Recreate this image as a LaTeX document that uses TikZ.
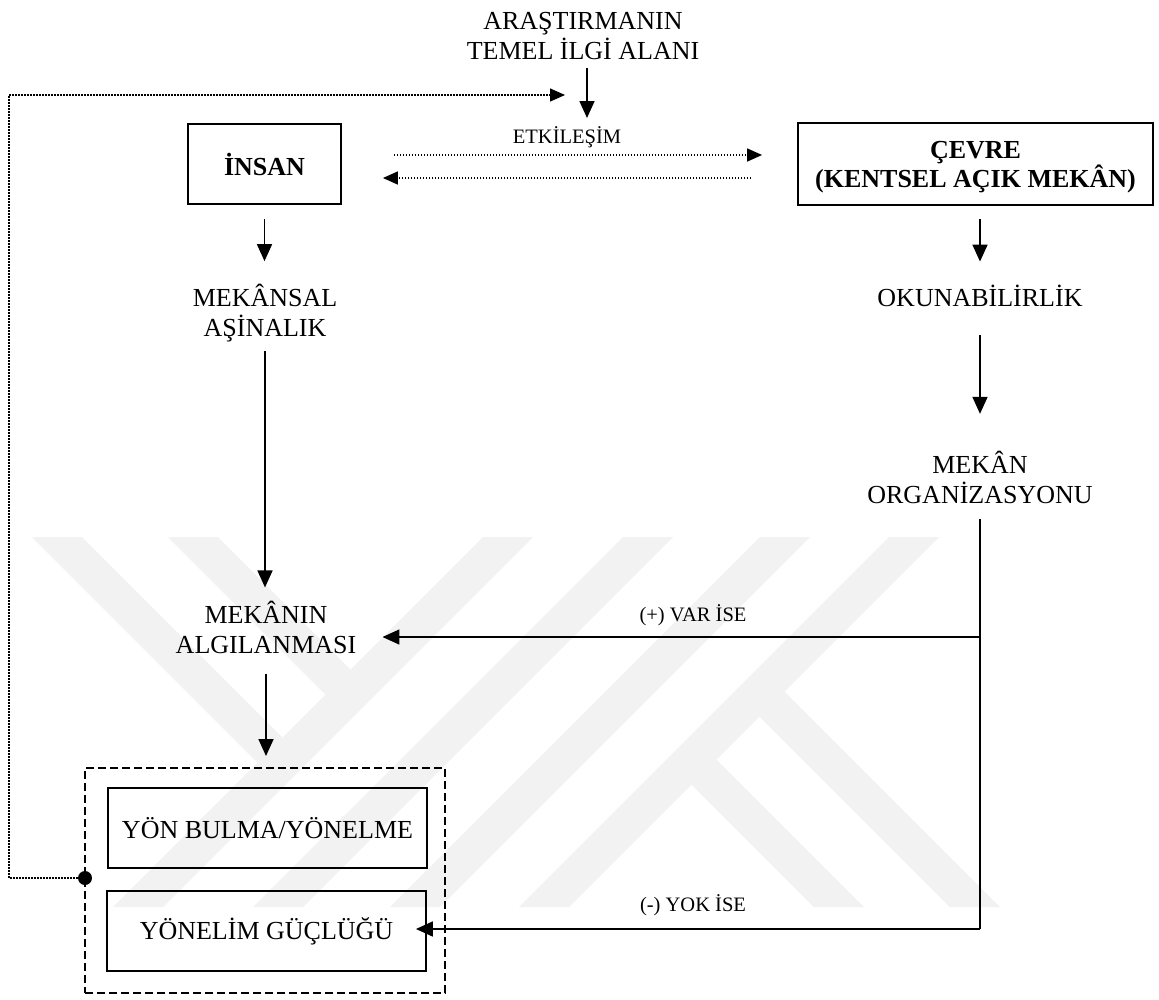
\documentclass[tikz,border=0pt]{standalone}
\usepackage{fontspec}
\setmainfont{Liberation Serif}
\usetikzlibrary{arrows.meta,calc}
\newcommand{\lblTop}{\rule{0pt}{21pt}}
\newcommand{\lblBot}{\rule[-9pt]{0pt}{9pt}}
\newcommand{\smlStrut}{\rule[-7.2pt]{0pt}{24pt}}
\begin{document}
\begin{tikzpicture}[x=1pt,y=-1pt,
  every node/.style={inner sep=0pt},
  lbl/.style={font=\fontsize{26}{30}\selectfont, align=center,
    execute at begin node=\lblTop, execute at end node=\lblBot},
  small/.style={font=\fontsize{20.5}{24}\selectfont, execute at begin node=\smlStrut},
  boxnode/.style={draw, line width=1.8pt, font=\fontsize{26}{30}\selectfont},
  ln/.style={line width=1.7pt},
  arr/.style={line width=1.7pt, -{Triangle[length=17pt,width=15pt]}},
  dotarr/.style={line width=1.5pt, dash pattern=on 1.5pt off 1.5pt, -{Triangle[length=15pt,width=13pt]}},
  wm/.style={fill=black!5}
]
\useasboundingbox (0,0) rectangle (1159,999);
\fill[white] (0,0) rectangle (1159,999);

% watermark
\fill[wm] (32,537) -- (82,537) -- (282.5,737.5) -- (257.5,762.5) -- cycle;
\fill[wm] (168,537) -- (218,537) -- (350.5,669.5) -- (325.5,694.5) -- cycle;
\fill[wm] (483,537) -- (533,537) -- (163,907) -- (113,907) -- cycle;
\fill[wm] (623,537) -- (673,537) -- (303,907) -- (253,907) -- cycle;
\fill[wm] (760,537) -- (810,537) -- (440,907) -- (390,907) -- cycle;
\fill[wm] (889,537) -- (939,537) -- (569,907) -- (519,907) -- cycle;
\fill[wm] (691.5,784.5) -- (716.5,759.5) -- (864,907) -- (814,907) -- cycle;
\fill[wm] (759.5,716.5) -- (784.5,691.5) -- (1000,907) -- (950,907) -- cycle;

% nodes
\node[lbl] (title) at (583,40) {ARAŞTIRMANIN\\TEMEL İLGİ ALANI};
\coordinate (ilgi) at (587,118);
\node[small] (etk) at (567,138.5) {ETKİLEŞİM};

\node[boxnode, minimum width=153pt, minimum height=80pt, font=\fontsize{26}{30}\selectfont\bfseries] (insan) at (264.5,164) {İNSAN};
\node[boxnode, minimum width=355pt, minimum height=82pt, align=center, font=\fontsize{26}{24}\selectfont\bfseries] (cevre) at (975.5,164) {\rule{0pt}{23pt}ÇEVRE\\(KENTSEL AÇIK MEKÂN)};

\node[lbl] (mks) at (265,315) {MEKÂNSAL\\AŞİNALIK};
\node[lbl] (alg) at (266,632.3) {MEKÂNIN\\ALGILANMASI};
\node[lbl] (oku) at (980,300) {OKUNABİLİRLİK};
\node[lbl] (mkn) at (980,481.7) {MEKÂN\\ORGANİZASYONU};

\node[small] (var) at (693,617) {(+) VAR İSE};
\node[small] (yok) at (693,907) {(-) YOK İSE};

\node[draw, dash pattern=on 8pt off 4pt, line width=2pt, minimum width=360pt, minimum height=225pt] (dbox) at (265,880.5) {};
\node[boxnode, minimum width=319pt, minimum height=80pt] (g1) at (267.5,828) {YÖN BULMA/YÖNELME};
\node[boxnode, minimum width=319pt, minimum height=80pt] (g2) at (266.5,931) {YÖNELİM GÜÇLÜĞÜ\hspace{29pt}};

\node[circle, fill, minimum size=14pt] (dot) at (85,878) {};

% connectors
\draw[arr] (title.south -| ilgi) -- (ilgi);
\draw[dotarr] ($(insan.east)+(52,-9)$) -- ($(cevre.west)+(-35,-9)$);
\draw[dotarr] ($(cevre.west)+(-46,14)$) -- ($(insan.east)+(41,14)$);

\draw[arr, shorten <=14pt, shorten >=23pt] (insan.south) -- (insan.south |- mks.north);
\draw[arr, shorten <=5pt, shorten >=14pt] (mks.south) -- (mks.south |- alg.north);
\draw[arr, shorten <=11pt, shorten >=11pt] (alg.south) -- (alg.south |- dbox.north);

\draw[arr, shorten <=13pt, shorten >=23pt] (cevre.south -| oku) -- (oku.north);
\draw[arr, shorten <=20pt, shorten >=37pt] (oku.south) -- (mkn.north);

\coordinate (vp) at (980,637);
\coordinate (vm) at (980,929);
\draw[ln] ($(mkn.south)+(0,6)$) -- (vm);
\draw[arr, shorten >=26pt] (vp) -- (alg.east |- vp);
\draw[arr, shorten >=-11pt] (vm) -- (g2.east |- vm);

\coordinate (f1) at (9,878);
\coordinate (f2) at (9,95);
\coordinate (f3) at (565,95);
\draw[dotarr] (dot.west) -- (f1) -- (f2) -- (f3);
\end{tikzpicture}
\end{document}
